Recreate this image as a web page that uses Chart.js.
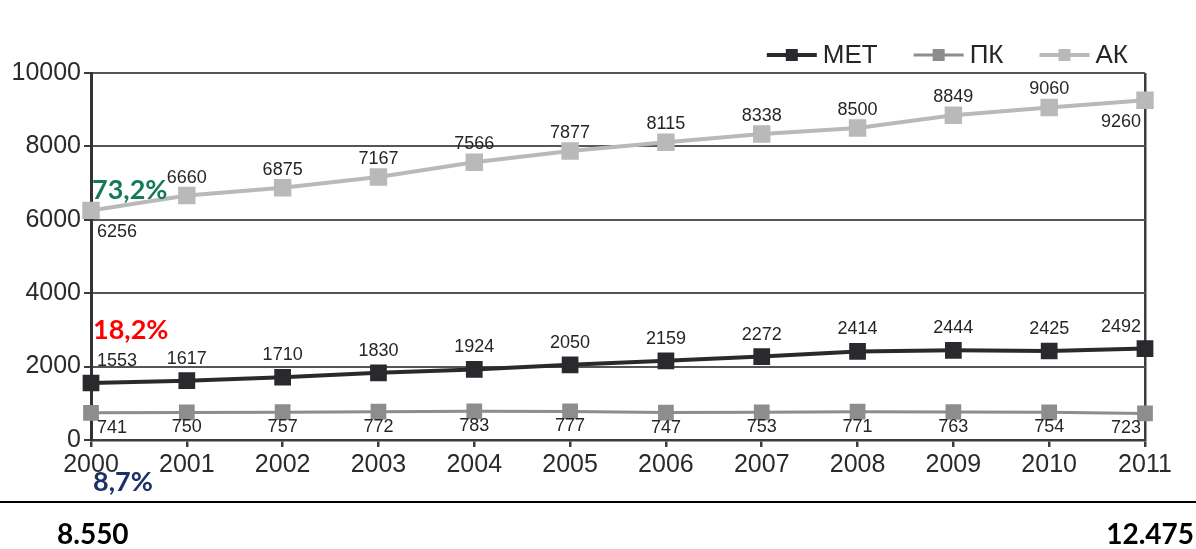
<!DOCTYPE html>
<html>
<head>
<meta charset="utf-8">
<script src="https://cdn.jsdelivr.net/npm/chart.js@4.4.1/dist/chart.umd.min.js"></script>
<style>
  html, body { margin: 0; padding: 0; background: #fff; }
  #wrap { width: 1196px; height: 549px; }
</style>
</head>
<body>
<div id="wrap"><canvas id="chart" width="1196" height="549"></canvas></div>
<script>
const years = ['2000', '2001', '2002', '2003', '2004', '2005', '2006', '2007', '2008', '2009', '2010', '2011'];
const met = [1553, 1617, 1710, 1830, 1924, 2050, 2159, 2272, 2414, 2444, 2425, 2492];
const pk = [741, 750, 757, 772, 783, 777, 747, 753, 771, 763, 754, 723];
const ak = [6256, 6660, 6875, 7167, 7566, 7877, 8115, 8338, 8500, 8849, 9060, 9260];
const yTicks = [0, 2000, 4000, 6000, 8000, 10000];
const shares = ['73,2%', '18,2%', '8,7%']; // АК, МЕТ, ПК in 2000
const totals = ['8.550', '12.475'];

const txt = '#262626';
const sans = '"Liberation Sans", Arial, sans-serif';

// value labels next to each point
const valueLabels = {
  id: 'valueLabels',
  afterDatasetsDraw(chart) {
    const ctx = chart.ctx;
    ctx.save();
    ctx.font = '18px ' + sans;
    ctx.fillStyle = txt;
    ctx.textBaseline = 'middle';
    chart.data.datasets.forEach((ds, di) => {
      const pts = chart.getDatasetMeta(di).data;
      pts.forEach((pt, i) => {
        let x = pt.x;
        ctx.textAlign = 'center';
        if (i === 0) { x += 6; ctx.textAlign = 'left'; }
        if (i === pts.length - 1) { x -= 4; ctx.textAlign = 'right'; }
        const below = ds.below(i);
        const y = below ? pt.y + ds.gap[1] : pt.y - ds.gap[0];
        ctx.fillText(String(ds.data[i]), x, y);
      });
    });
    ctx.restore();
  }
};

// legend, percentages and totals
const extras = {
  id: 'extras',
  afterDraw(chart) {
    const ctx = chart.ctx;
    ctx.save();
    // legend
    ctx.font = '26px ' + sans;
    ctx.textBaseline = 'middle';
    ctx.textAlign = 'left';
    const ly = 55, lineW = 50, gapT = 6, gapI = 36;
    const items = chart.data.datasets;
    let total = 0;
    items.forEach((ds, i) => {
      total += lineW + gapT + ctx.measureText(ds.label).width + (i < items.length - 1 ? gapI : 0);
    });
    let x = 1128 - total;
    items.forEach(ds => {
      ctx.strokeStyle = ds.borderColor;
      ctx.lineWidth = ds.borderWidth;
      ctx.beginPath();
      ctx.moveTo(x, ly);
      ctx.lineTo(x + lineW, ly);
      ctx.stroke();
      ctx.fillStyle = ds.borderColor;
      ctx.fillRect(x + lineW / 2 - 6, ly - 6, 12, 12);
      ctx.fillStyle = txt;
      ctx.fillText(ds.label, x + lineW + gapT, ly + 1);
      x += lineW + gapT + ctx.measureText(ds.label).width + gapI;
    });

    // shares
    ctx.font = 'bold 27px Lato, "Open Sans", sans-serif';
    ctx.fillStyle = '#137a55';
    ctx.fillText(shares[0], 92, 190);
    ctx.fillStyle = '#ff0000';
    ctx.fillText(shares[1], 93, 330);
    ctx.fillStyle = '#1c2f66';
    ctx.fillText(shares[2], 93, 482);

    // bottom rule and totals
    ctx.fillStyle = '#000';
    ctx.fillRect(0, 501, 1196, 2);
    ctx.font = 'bold 28px Lato, "Open Sans", sans-serif';
    ctx.fillText(totals[0], 57, 535);
    ctx.textAlign = 'right';
    ctx.fillText(totals[1], 1194, 535);
    ctx.restore();
  }
};

const ctx = document.getElementById('chart').getContext('2d');
const chart = new Chart(ctx, {
  type: 'line',
  data: {
    labels: years,
    datasets: [{
      label: 'МЕТ',
      data: met,
      borderColor: '#2a2a2e',
      backgroundColor: '#2a2a2e',
      borderWidth: 4,
      pointRadius: 9,
      below: () => false,
      gap: [22, 0]
    }, {
      label: 'ПК',
      data: pk,
      borderColor: '#8d8d8d',
      backgroundColor: '#8d8d8d',
      borderWidth: 3,
      pointRadius: 9,
      below: () => true,
      gap: [0, 15]
    }, {
      label: 'АК',
      data: ak,
      borderColor: '#b9b9b9',
      backgroundColor: '#b9b9b9',
      borderWidth: 4,
      pointRadius: 9.5,
      below: i => i === 0 || i === ak.length - 1,
      gap: [18, 22]
    }]
  },
  options: {
    responsive: false,
    animation: false,
    devicePixelRatio: 1,
    clip: false,
    elements: {
      line: { tension: 0 },
      point: { pointStyle: 'rect', borderWidth: 0, hoverRadius: 9 }
    },
    layout: { padding: { top: 73, right: 51, left: 0, bottom: 0 } },
    plugins: {
      legend: { display: false },
      tooltip: { enabled: false }
    },
    scales: {
      x: {
        offset: false,
        afterFit: s => { s.height = 109; },
        grid: {
          offset: false,
          color: c => (c.index === 0 || c.index === years.length - 1) ? '#3c3c3c' : 'rgba(0,0,0,0)',
          lineWidth: 2.5,
          tickColor: '#3c3c3c',
          tickLength: 7
        },
        border: { display: true, color: '#3c3c3c', width: 2.5 },
        ticks: {
          color: '#2a2a2a',
          padding: 3,
          maxRotation: 0,
          font: { family: sans, size: 25 }
        }
      },
      y: {
        min: 0,
        max: 10000,
        afterFit: s => { s.width = 91; },
        afterBuildTicks: s => { s.ticks = yTicks.map(v => ({ value: v })); },
        grid: {
          color: '#555',
          lineWidth: 2,
          tickColor: '#3c3c3c',
          tickLength: 7
        },
        border: { display: true, color: '#333', width: 3 },
        ticks: {
          color: '#2a2a2a',
          padding: 3,
          font: { family: sans, size: 25 },
          callback: v => String(v)
        }
      }
    }
  },
  plugins: [valueLabels, extras]
});
</script>
</body>
</html>
